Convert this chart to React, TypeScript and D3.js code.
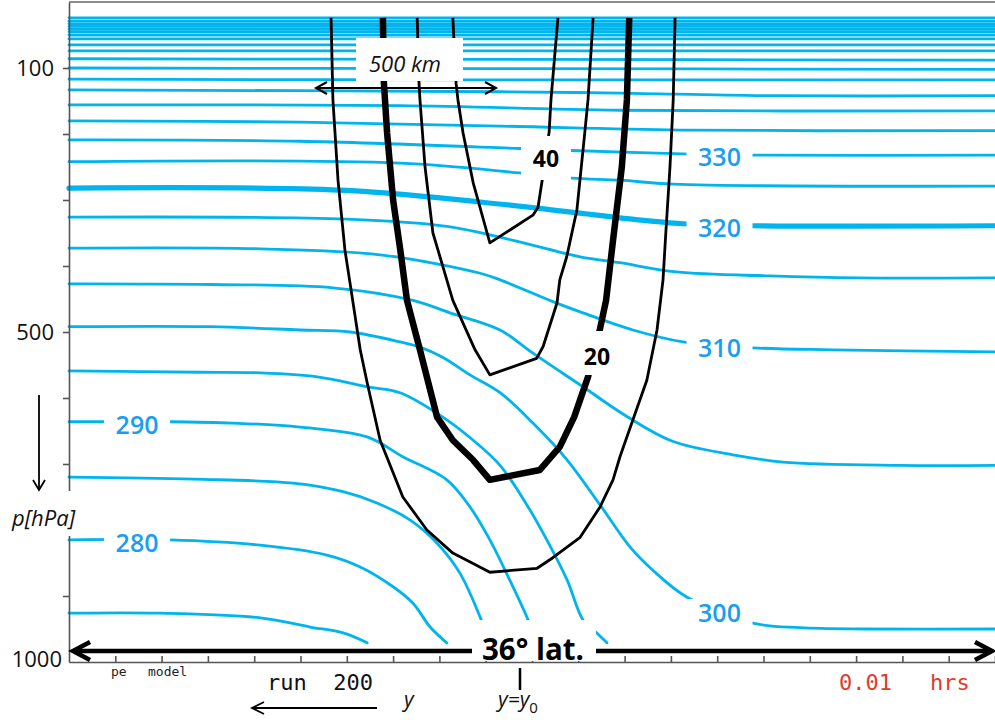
import React, { useEffect, useRef } from 'react';
import * as d3 from 'd3';

// pressure axis (hPa) and model grid columns along y
const pressureTicks = [100, 200, 300, 400, 500, 600, 700, 800, 900];
const pressureLabels = [100, 500, 1000];
const gridTicks = d3.range(1, 21);

// isentropes: potential temperature (K) and trace as [grid column, p hPa]
const thetaLevels = [410, 405, 400, 395, 390, 385, 380, 375, 370, 365, 360, 355, 350, 345, 340, 335, 330, 325, 320, 315, 310, 305, 300, 295, 290, 285, 280, 275];
const thetaTraces = [
  [[0, 24], [20, 24]],
  [[0, 29], [20, 29]],
  [[0, 33], [20, 33]],
  [[0, 37], [20, 37]],
  [[0, 41], [20, 41]],
  [[0, 45], [20, 45]],
  [[0, 50], [20, 50]],
  [[0, 56], [20, 56]],
  [[0, 65], [20, 65]],
  [[0, 74], [20, 74]],
  [[0, 86], [9, 87], [20, 88]],
  [[0, 100], [9, 101], [20, 102]],
  [[0, 117], [9, 118], [20, 118]],
  [[0, 133], [9.31, 136], [11.9, 138], [15.14, 142], [20, 142]],
  [[0, 156], [7.15, 157], [11.9, 164], [20, 165]],
  [[0, 180], [4.99, 182], [9.31, 188], [13.2, 194], [20, 195]],
  [[0, 209], [4.99, 211], [9.74, 222], [10.86, 225], [13.26, 230], [14.77, 232], [20, 232]],
  [[0, 242], [7.15, 244], [9.74, 259], [10.86, 267], [11.9, 270], [13.05, 276], [20, 279]],
  [[0, 282], [5.85, 285], [8.88, 303], [11.04, 320], [11.9, 327], [13.26, 336], [14.77, 339], [20, 339]],
  [[0, 326], [6.0, 329], [8.16, 340], [9.59, 361], [11.04, 386], [11.9, 395], [13.12, 409], [15.14, 415], [17.08, 418], [20, 418]],
  [[0, 373], [4.13, 374], [6.72, 383], [8.88, 411], [9.31, 421], [10.45, 454], [11.1, 471], [12.18, 497], [13.26, 515], [14.77, 524], [16.5, 527], [20, 530]],
  [[0, 427], [3.05, 428], [5.7, 433], [7.43, 452], [8.23, 471], [9.31, 497], [10.02, 532], [11.1, 583], [12.05, 628], [13.05, 666], [14.34, 686], [15.42, 697], [17.95, 702], [20, 702]],
  [[0, 492], [3.05, 492], [4.99, 497], [6.07, 500], [7.15, 515], [7.58, 523], [8.06, 538], [8.66, 565], [9.31, 592], [10.02, 638], [10.76, 694], [11.47, 762], [12.12, 826], [12.61, 861], [13.35, 902], [14.77, 941], [15.79, 948], [17.24, 950], [20, 950]],
  [[0, 559], [2.83, 561], [4.13, 562], [5.36, 568], [6.44, 583], [7.15, 592], [8.01, 626], [8.73, 664], [9.31, 702], [9.89, 762], [10.32, 815], [10.76, 876], [11.1, 936], [11.4, 956], [11.62, 971]],
  [[0, 636], [2.18, 636], [3.54, 638], [4.99, 644], [6.44, 659], [7.21, 689], [8.16, 724], [8.66, 765], [9.09, 815], [9.52, 876], [9.89, 932], [10.11, 971]],
  [[0, 720], [2.68, 723], [4.84, 729], [5.92, 742], [6.65, 759], [7.37, 785], [7.95, 820], [8.44, 865], [8.88, 932], [9.09, 971]],
  [[0, 815], [2.18, 815], [4.13, 823], [5.57, 838], [6.29, 856], [7.0, 886], [7.43, 911], [7.8, 947], [8.16, 971]],
  [[0, 926], [1.97, 926], [4.13, 933], [5.21, 947], [5.92, 956], [6.44, 971]],
];
const thetaLabelled = [330, 320, 310, 300, 290, 280];

// jet wind speed contours (m/s)
const jetSpeeds = [10, 20, 30, 40];
const jetTraces = [
  [[5.66, 24], [5.7, 148], [5.81, 270], [5.96, 376], [6.07, 426], [6.29, 527], [6.44, 577], [6.72, 664], [7.21, 750], [7.73, 800], [8.29, 835], [9.09, 864], [10.11, 858], [10.45, 842], [11.04, 811], [11.47, 765], [11.75, 724], [11.9, 689], [12.18, 633], [12.48, 573], [12.7, 497], [12.83, 421], [12.89, 350], [12.98, 250], [13.05, 148], [13.09, 24]],
  [[6.78, 24], [6.8, 121], [6.87, 198], [7.0, 300], [7.15, 373], [7.3, 452], [7.58, 527], [7.95, 629], [8.29, 664], [8.73, 694], [9.09, 724], [10.17, 709], [10.6, 674], [10.91, 629], [11.21, 568], [11.47, 495], [11.6, 452], [11.75, 361], [11.94, 250], [12.05, 148], [12.1, 24]],
  [[7.52, 24], [7.56, 123], [7.58, 148], [7.69, 250], [7.86, 350], [8.08, 402], [8.29, 452], [8.77, 527], [9.09, 565], [10.1, 540], [10.24, 522], [10.54, 456], [10.6, 421], [10.75, 386], [10.97, 315], [11.14, 198], [11.21, 148], [11.32, 24]],
  [[8.29, 24], [8.36, 123], [8.4, 148], [8.51, 198], [8.73, 274], [9.03, 350], [9.09, 365], [10.02, 323], [10.13, 311], [10.22, 270], [10.37, 197], [10.41, 148], [10.56, 24]],
];

const W = 995;
const H = 727;
const x = d3.scaleLinear().domain([0, 20]).range([69, 995]);
const y = d3.scaleLinear().domain([0, 1000]).range([2, 662]);

const smooth = d3.line<number[]>().x(d => x(d[0])).y(d => y(d[1])).curve(d3.curveCatmullRom.alpha(0.5));
const sharp = d3.line<number[]>().x(d => x(d[0])).y(d => y(d[1]));

const BLUE = '#00b4ee';
const BLUE_TEXT = '#1a9ff0';
const FONT = "'Open Sans', 'DejaVu Sans', sans-serif";
const MONO = "'DejaVu Sans Mono', 'Liberation Mono', monospace";

// pressure on a trace at a grid column (linear interpolation)
const pAt = (trace: number[][], gx: number) => {
  for (let i = 1; i < trace.length; i++) {
    if (trace[i][0] >= gx) {
      const [x0, p0] = trace[i - 1];
      const [x1, p1] = trace[i];
      return p0 + ((gx - x0) / (x1 - x0)) * (p1 - p0);
    }
  }
  return trace[trace.length - 1][1];
};

// open arrow head, tip at (tx, ty), pointing along (ux, uy)
const head = (tx: number, ty: number, ux: number, uy: number, len: number, half: number) => {
  const bx = tx - ux * len;
  const by = ty - uy * len;
  return `M${bx - uy * half},${by + ux * half}L${tx},${ty}L${bx + uy * half},${by - ux * half}`;
};

const App = () => {
  const axisRef = useRef<SVGGElement>(null);

  useEffect(() => {
    const g = d3.select(axisRef.current);
    g.selectAll('*').remove();
    g.attr('color', '#555');
    g.append('g')
      .attr('transform', `translate(${x(0)},0)`)
      .call(d3.axisLeft(y).tickValues(pressureTicks).tickSize(6).tickSizeOuter(0).tickFormat(() => ''));
    g.append('g')
      .attr('transform', `translate(0,${y(1000)})`)
      .call(d3.axisBottom(x).tickValues(gridTicks).tickSize(-6).tickSizeOuter(0).tickFormat(() => ''));
    g.selectAll('path, line').attr('stroke-width', 1.6);
  }, []);

  const labelCol = (t: number) => (t >= 300 ? 14.05 : 1.47);

  return (
    <svg width={W} height={H} style={{ position: 'absolute', left: 0, top: 0, background: '#fff' }}>
      <line x1={x(0)} x2={x(20)} y1={2} y2={2} stroke="#666" strokeWidth={1.6} />

      {/* isentropes */}
      {thetaTraces.map((tr, i) => (
        <path key={thetaLevels[i]} d={smooth(tr) || ''} fill="none" stroke={BLUE}
          strokeWidth={thetaLevels[i] === 320 ? 5.2 : 2.8} strokeLinecap="round" />
      ))}

      {/* jet contours */}
      {jetTraces.map((tr, i) => (
        <path key={jetSpeeds[i]} d={sharp(tr) || ''} fill="none" stroke="#000"
          strokeWidth={jetSpeeds[i] === 20 ? 6.5 : 2.8} strokeLinejoin="round" />
      ))}

      {/* isentrope labels */}
      {thetaLabelled.map(t => {
        const tr = thetaTraces[thetaLevels.indexOf(t)];
        const gx = labelCol(t);
        const cx = x(gx);
        const cy = y(pAt(tr, gx)) + 3;
        return (
          <g key={t}>
            <rect x={cx - 33} y={cy - 14} width={66} height={28} fill="#fff" />
            <text x={cx} y={cy + 9} textAnchor="middle" fontFamily={FONT} fontWeight={600}
              fontSize={25} fill={BLUE_TEXT}>{t}</text>
          </g>
        );
      })}

      {/* jet contour labels */}
      <rect x={521} y={136} width={50} height={44} fill="#fff" />
      <text x={546} y={167} textAnchor="middle" fontFamily={FONT} fontWeight={700} fontSize={23} fill="#000">40</text>
      <rect x={580} y={331} width={34} height={44} fill="#fff" />
      <text x={597} y={365} textAnchor="middle" fontFamily={FONT} fontWeight={700} fontSize={23} fill="#000">20</text>

      {/* 500 km scale */}
      <rect x={356} y={38} width={107} height={43} fill="#fff" />
      <text x={405} y={72} textAnchor="middle" fontFamily={FONT} fontStyle="italic" fontSize={22} fill="#111">500 km</text>
      <line x1={316} x2={496} y1={88} y2={88} stroke="#000" strokeWidth={2} />
      <path d={head(316, 88, -1, 0, 11, 6)} fill="none" stroke="#000" strokeWidth={2} />
      <path d={head(496, 88, 1, 0, 11, 6)} fill="none" stroke="#000" strokeWidth={2} />

      {/* axes */}
      <g ref={axisRef} />
      <rect x={63} y={491} width={10} height={45} fill="#fff" />
      {pressureLabels.map(p => (
        <text key={p} x={p === 1000 ? 62 : 54} y={p === 1000 ? 667 : y(p) + 8} textAnchor="end"
          fontFamily={FONT} fontSize={22} fill="#111">{p}</text>
      ))}

      {/* p axis title */}
      <line x1={39} x2={39} y1={395} y2={489} stroke="#000" strokeWidth={1.8} />
      <path d={head(39, 490, 0, 1, 10, 6)} fill="none" stroke="#000" strokeWidth={1.8} />
      <text x={12} y={526} fontFamily={FONT} fontStyle="italic" fontSize={22} fill="#111">p[hPa]</text>

      {/* 36 deg latitude arrow */}
      <line x1={75} x2={990} y1={651} y2={651} stroke="#000" strokeWidth={4.5} />
      <path d={head(73, 651, -1, 0, 17, 9)} fill="none" stroke="#000" strokeWidth={4.5} strokeLinejoin="miter" />
      <path d={head(992, 651, 1, 0, 17, 9)} fill="none" stroke="#000" strokeWidth={4.5} strokeLinejoin="miter" />
      <rect x={472} y={620} width={124} height={41} fill="#fff" />
      <text x={533} y={660} textAnchor="middle" fontFamily={FONT} fontWeight={700} fontSize={31}
        textLength={102} lengthAdjust="spacingAndGlyphs" fill="#000">36° lat.</text>

      {/* model run stamps */}
      <text x={111} y={676} fontFamily={MONO} fontSize={13} fill="#222">pe</text>
      <text x={148} y={676} fontFamily={MONO} fontSize={13} fill="#222">model</text>
      <text x={267} y={690} fontFamily={MONO} fontSize={22} fill="#111" xmlSpace="preserve">run  200</text>
      <text x={839} y={690} fontFamily={MONO} fontSize={22} fill="#e23b2a">0.01</text>
      <text x={930} y={690} fontFamily={MONO} fontSize={22} fill="#e23b2a">hrs</text>

      {/* y axis annotations */}
      <line x1={520} x2={520} y1={668} y2={690} stroke="#000" strokeWidth={2.5} />
      <line x1={253} x2={377} y1={708} y2={708} stroke="#000" strokeWidth={1.8} />
      <path d={head(252, 708, -1, 0, 12, 6)} fill="none" stroke="#000" strokeWidth={1.8} />
      <text x={404} y={707} fontFamily={FONT} fontStyle="italic" fontSize={21} fill="#111">y</text>
      <text x={498} y={707} fontFamily={FONT} fontStyle="italic" fontSize={21} fill="#111">
        y=y<tspan dy={6} fontSize={15} fontStyle="normal">0</tspan>
      </text>
    </svg>
  );
};

export default App;
